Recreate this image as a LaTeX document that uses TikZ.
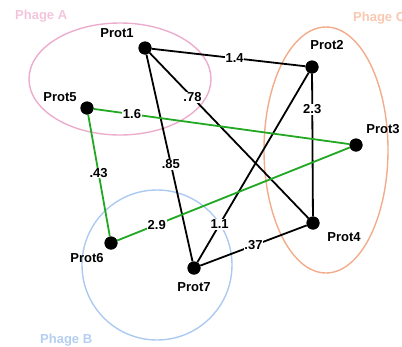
\documentclass[tikz,border=0pt]{standalone}
\usepackage{fontspec}
\setmainfont{Liberation Sans}
\definecolor{pinkc}{RGB}{236,172,204}
\definecolor{pinkt}{RGB}{244,196,220}
\definecolor{orangec}{RGB}{242,172,140}
\definecolor{oranget}{RGB}{248,200,176}
\definecolor{bluec}{RGB}{172,202,240}
\definecolor{bluet}{RGB}{180,206,242}
\definecolor{greenc}{RGB}{34,168,34}
\begin{document}
\begin{tikzpicture}[x=1pt,y=-1pt,
  prot/.style={circle,fill=black,inner sep=0pt,minimum size=13pt},
  plabel/.style={font=\fontsize{13}{15}\selectfont\bfseries,inner sep=0pt},
  elabel/.style={font=\fontsize{13}{15}\selectfont\bfseries,fill=white,inner sep=0.8pt},
  bedge/.style={draw=black,line width=1.8pt},
  gedge/.style={draw=greenc,line width=1.8pt},
  phage/.style={line width=1.4pt},
  ptext/.style={font=\fontsize{13}{15}\selectfont\bfseries,inner sep=0pt,anchor=west}]
\useasboundingbox (0,0) rectangle (402,346);
\clip (0,0) rectangle (402,346);
% phage groups
\draw[phage,draw=pinkc] (120,79) ellipse [x radius=91, y radius=56];
\draw[phage,draw=orangec] (326,150) ellipse [x radius=62, y radius=123];
\draw[phage,draw=bluec] (157,265) circle [radius=75];
\node[ptext,text=pinkt] (pa) at (15,16) {Phage A};
\node[ptext,text=bluet] (pb) at (40,340) {Phage B};
\node[ptext,text=oranget] (pc) at (353,18) {Phage C};
% proteins
\node[prot] (p1) at (145,48) {};
\node[prot] (p2) at (312,67) {};
\node[prot] (p3) at (356,145) {};
\node[prot] (p4) at (313,223) {};
\node[prot] (p5) at (87,108) {};
\node[prot] (p6) at (111,243) {};
\node[prot] (p7) at (194,268) {};
% edges
\path[bedge] (p1) -- node[elabel,pos=0.54] (l12) {1.4} (p2);
\path[bedge] (p1) -- node[elabel,pos=0.27] (l14) {.78} (p4);
\path[bedge] (p1) -- node[elabel,pos=0.53] (l17) {.85} (p7);
\path[bedge] (p2) -- node[elabel,pos=0.25] (l24) {2.3} (p4);
\path[bedge] (p2) -- node[elabel,pos=0.8] (l27) {1.1} (p7);
\path[bedge] (p7) -- node[elabel,pos=0.5] (l74) {.37} (p4);
\path[gedge] (p5) -- node[elabel,pos=0.15] (l53) {1.6} (p3);
\path[gedge] (p5) -- node[elabel,pos=0.48] (l56) {.43} (p6);
\path[gedge] (p6) -- node[elabel,pos=0.17] (l63) {2.9} (p3);
% redraw dots on top
\node[prot] at (p1) {};
\node[prot] at (p2) {};
\node[prot] at (p3) {};
\node[prot] at (p4) {};
\node[prot] at (p5) {};
\node[prot] at (p6) {};
\node[prot] at (p7) {};
% labels
\node[plabel] (t1) at (117,33) {Prot1};
\node[plabel] (t2) at (327,45) {Prot2};
\node[plabel] (t3) at (383,129) {Prot3};
\node[plabel] (t4) at (344,237) {Prot4};
\node[plabel] (t5) at (60,97) {Prot5};
\node[plabel] (t6) at (87,258) {Prot6};
\node[plabel] (t7) at (194,287) {Prot7};
\end{tikzpicture}
\end{document}
